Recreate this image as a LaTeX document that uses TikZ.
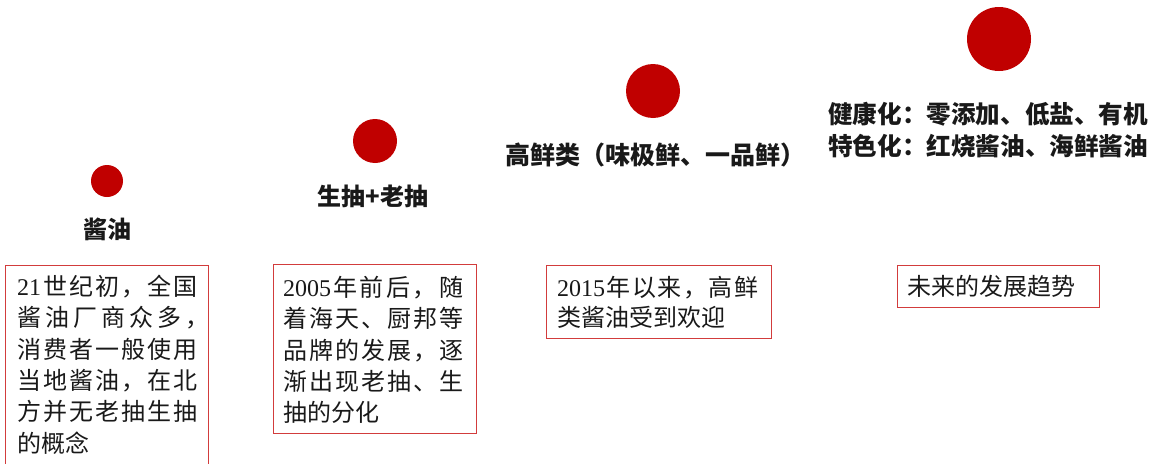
\documentclass[tikz,border=0pt]{standalone}
\usepackage{fontspec}
\setmainfont{Liberation Serif}
\newfontfamily\cjk{Noto Sans CJK SC}
\newfontfamily\lat{Liberation Serif}
\definecolor{dotred}{RGB}{192,0,0}
\definecolor{boxred}{RGB}{210,60,60}
\newcount\mycnt
\mycnt="3000
\loop\ifnum\mycnt<"A000 \XeTeXcharclass\mycnt=10 \advance\mycnt by 1 \repeat
\mycnt="FF00
\loop\ifnum\mycnt<"FFF0 \XeTeXcharclass\mycnt=10 \advance\mycnt by 1 \repeat
\XeTeXinterchartoks 10 10 = {\hfil}
\newcommand\jline[2]{\makebox[#1][s]{\XeTeXinterchartokenstate=1 #2}}
\begin{document}
\begin{tikzpicture}[x=1pt,y=-1pt,
  dot/.style={circle,fill=dotred,draw=none,inner sep=0pt},
  tbox/.style={draw=boxred,line width=1.2pt,inner sep=0pt,anchor=north west},
  body/.style={inner sep=0pt,anchor=north west,align=left,text=black!90,font=\cjk\fontsize{24}{31.3}\selectfont},
  lab/.style={inner sep=0pt,text=black!90,font=\cjk\bfseries\fontsize{24}{32}\selectfont}]
\useasboundingbox (0,0) rectangle (1156,463);
% dots
\node[dot,minimum size=32pt] (c1) at (107,181) {};
\node[dot,minimum size=44pt] (c2) at (375,141) {};
\node[dot,minimum size=54pt] (c3) at (653,91) {};
\node[dot,minimum size=64pt] (c4) at (999,39) {};
% labels
\node[lab] (l1) at (107,229) {酱油};
\node[lab] (l2) at (373,196) {生抽+老抽};
\node[lab,font=\cjk\bfseries\fontsize{25}{32}\selectfont] (l3) at (655,155) {高鲜类（味极鲜、一品鲜）};
\node[lab,align=left,anchor=west,font=\cjk\bfseries\fontsize{24.6}{32}\selectfont] (l4) at (828,130) {健康化：零添加、低盐、有机\\特色化：红烧酱油、海鲜酱油};
% boxes
\node[tbox,minimum width=203pt,minimum height=215pt] (b1) at (5,265) {};
\node[tbox,minimum width=203pt,minimum height=169pt] (b2) at (273,264) {};
\node[tbox,minimum width=225pt,minimum height=73pt] (b3) at (546,265) {};
\node[tbox,minimum width=202pt,minimum height=42pt] (b4) at (897,265) {};
% texts
\node[body] (t1) at (17,275) {\jline{180pt}{{\lat 21}\hfil 世纪初，全国}\\
\jline{192pt}{酱油厂商众多，}\\
\jline{180pt}{消费者一般使用}\\
\jline{180pt}{当地酱油，在北}\\
\jline{180pt}{方并无老抽生抽}\\
的概念};
\node[body] (t2) at (283,276) {\jline{180pt}{{\lat 2005}\hfil 年前后，随}\\
\jline{180pt}{着海天、厨邦等}\\
\jline{180pt}{品牌的发展，逐}\\
\jline{180pt}{渐出现老抽、生}\\
抽的分化};
\node[body,font=\cjk\fontsize{24}{30}\selectfont] (t3) at (557,276) {\jline{201pt}{{\lat 2015}\hfil 年以来，高鲜}\\
类酱油受到欢迎};
\node[body] (t4) at (907,275) {未来的发展趋势};
\end{tikzpicture}
\end{document}
